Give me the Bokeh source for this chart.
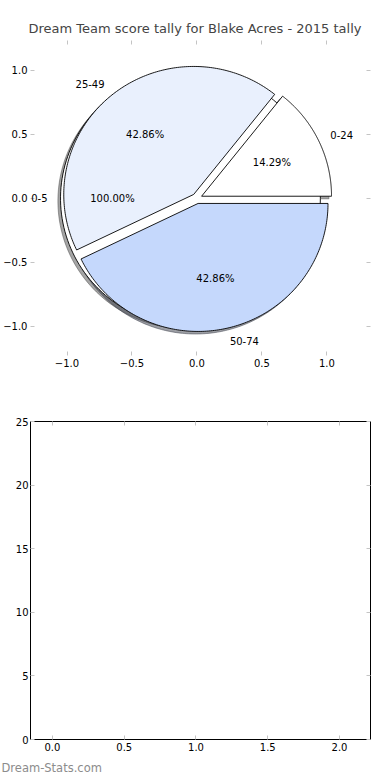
import numpy as np
from bokeh.plotting import figure
from bokeh.models import (ColumnDataSource, LinearAxis, Range1d, Title, FixedTicker,
                          LabelSet, CustomLabelingPolicy, PrintfTickFormatter)
from bokeh.layouts import column
from bokeh.embed import file_html
from bokeh.resources import INLINE
from bokeh.core.properties import value

# ---------------- data ----------------
title_text = "Dream Team score tally for Blake Acres - 2015 tally"
slice_labels = ["0-24", "25-49", "50-74"]
slice_counts = [1, 3, 3]
slice_colors = ["#ffffff", "#e9f0fd", "#c5d8fc"]
slice_explode = [0.04, 0.04, 0.04]
whole_labels = ["0-5"]
whole_counts = [1]
whole_colors = ["#ffffff"]
whole_explode = [0.05]
pie_ticks = [-1.0, -0.5, 0.0, 0.5, 1.0]
pie_tick_labels = ["\u22121.0", "\u22120.5", "0.0", "0.5", "1.0"]
bar_xticks = [0.0, 0.5, 1.0, 1.5, 2.0]
bar_yticks = [0, 5, 10, 15, 20, 25]
watermark = "Dream-Stats.com"

FONT = "DejaVu Sans"
TICK_GRAY = "#c4c4c4"


def pie_geometry(labels, counts, explode, colors, n=180):
    counts = np.asarray(counts, dtype=float)
    frac = counts / counts.sum()
    edges = np.concatenate([[0.0], np.cumsum(frac)]) * 2 * np.pi
    xs, ys, sx, sy, shadow_cols = [], [], [], [], []
    lx, ly, lalign, px, py, ptext = [], [], [], [], [], []
    for i in range(len(counts)):
        t1, t2 = edges[i], edges[i + 1]
        m = 0.5 * (t1 + t2)
        ox, oy = explode[i] * np.cos(m), explode[i] * np.sin(m)
        th = np.linspace(t1, t2, n)
        wx = ox + np.cos(th)
        wy = oy + np.sin(th)
        if frac[i] < 0.9999:
            wx = np.concatenate([[ox], wx, [ox]])
            wy = np.concatenate([[oy], wy, [oy]])
        xs.append(list(wx))
        ys.append(list(wy))
        sx.append(list(wx - 0.02))
        sy.append(list(wy - 0.02))
        rgb = colors[i].lstrip("#")
        r, g, b = (int(rgb[k:k + 2], 16) for k in (0, 2, 4))
        shadow_cols.append("#%02x%02x%02x" % (int(r * 0.3), int(g * 0.3), int(b * 0.3)))
        xt = ox + 1.1 * np.cos(m)
        yt = oy + 1.1 * np.sin(m)
        lx.append(xt)
        ly.append(yt)
        lalign.append("left" if xt > 0 else "right")
        px.append(ox + 0.6 * np.cos(m))
        py.append(oy + 0.6 * np.sin(m))
        ptext.append("%1.2f%%" % (100 * frac[i]))
    wedges = ColumnDataSource(dict(xs=xs, ys=ys, color=list(colors)))
    shadows = ColumnDataSource(dict(xs=sx, ys=sy, color=shadow_cols))
    lab = ColumnDataSource(dict(x=lx, y=ly, text=list(labels), align=lalign))
    pct = ColumnDataSource(dict(x=px, y=py, text=ptext))
    return wedges, shadows, lab, pct


def style_axis(ax, show_labels=True, overrides=None):
    ax.axis_line_color = None
    ax.major_tick_in = 4
    ax.major_tick_out = 0
    ax.major_tick_line_color = TICK_GRAY
    ax.major_tick_line_width = 1
    ax.minor_tick_line_color = None
    ax.major_label_text_font = FONT
    ax.major_label_text_color = "#000000"
    ax.major_label_standoff = 3
    if show_labels:
        ax.major_label_text_font_size = "10px"
    else:
        ax.major_label_text_font_size = "1px"
        ax.major_label_standoff = 0
        ax.major_label_policy = CustomLabelingPolicy(code="return []")
    if overrides:
        ax.major_label_overrides = overrides


# ---------------- top: pie ----------------
p1 = figure(width=390, height=395, output_backend="svg", toolbar_location=None,
            x_range=Range1d(-1.281, 1.336), y_range=Range1d(-1.227, 1.234),
            x_axis_location=None, y_axis_location=None,
            min_border_left=0, min_border_right=20, min_border_top=40, min_border_bottom=40)
p1.outline_line_color = None
p1.grid.visible = False
p1.background_fill_color = "white"
p1.title.text = title_text
p1.title.align = "left"
p1.title.offset = -2
p1.title.text_font = FONT
p1.title.text_font_size = "13px"
p1.title.text_font_style = "normal"
p1.title.standoff = 2

ov = {t: s for t, s in zip(pie_ticks, pie_tick_labels)}
for loc, show in (("left", True), ("below", True), ("right", False), ("above", False)):
    ax = LinearAxis(ticker=FixedTicker(ticks=pie_ticks))
    style_axis(ax, show, ov if show else None)
    p1.add_layout(ax, loc)

w_src, w_sh, w_lab, w_pct = pie_geometry(whole_labels, whole_counts, whole_explode, whole_colors)
s_src, s_sh, s_lab, s_pct = pie_geometry(slice_labels, slice_counts, slice_explode, slice_colors)

for sh in (w_sh, s_sh):
    p1.patches("xs", "ys", source=sh, fill_color="color", line_color="color",
               fill_alpha=0.5, line_alpha=0.5, line_width=1)
for src in (w_src, s_src):
    p1.patches("xs", "ys", source=src, fill_color="color", line_color="black", line_width=0.9)
for lab, pct in ((w_lab, w_pct), (s_lab, s_pct)):
    p1.add_layout(LabelSet(x="x", y="y", text="text", source=lab, text_align="align",
                           text_baseline="middle", text_font=value(FONT),
                           text_font_size=value("10px"), text_color=value("black")))
    p1.add_layout(LabelSet(x="x", y="y", text="text", source=pct, text_align=value("center"),
                           text_baseline=value("middle"), text_font=value(FONT),
                           text_font_size=value("10px"), text_color=value("black")))

# ---------------- bottom: empty axes ----------------
p2 = figure(width=390, height=385, output_backend="svg", toolbar_location=None,
            x_range=Range1d(-0.153, 2.216), y_range=Range1d(0, 25),
            x_axis_location=None, y_axis_location=None,
            min_border_left=0, min_border_right=20, min_border_top=26, min_border_bottom=40)
p2.outline_line_color = "black"
p2.outline_line_width = 1
p2.grid.visible = False
for loc, show, ticks in (("left", True, bar_yticks), ("below", True, bar_xticks),
                         ("right", False, bar_yticks), ("above", False, bar_xticks)):
    ax = LinearAxis(ticker=FixedTicker(ticks=ticks))
    style_axis(ax, show)
    if show and loc == "below":
        ax.formatter = PrintfTickFormatter(format="%.1f")
    if show and loc == "left":
        ax.major_label_standoff = 2
    p2.add_layout(ax, loc)

wm = Title(text=watermark, align="left", text_font=FONT, text_font_size="11.5px",
           text_font_style="normal", text_color="#8c8c8c", offset=-29, standoff=11)
p2.add_layout(wm, "below")

layout = column(p1, p2, spacing=0)
open("out.html", "w").write(file_html(layout, INLINE))
